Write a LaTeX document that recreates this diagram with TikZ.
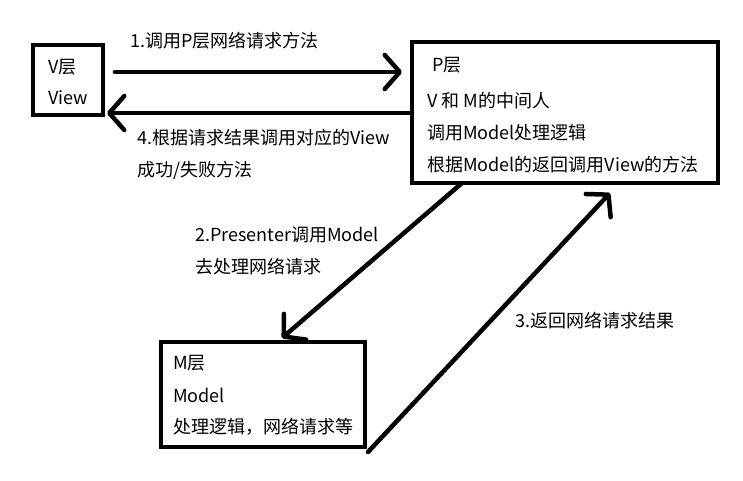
\documentclass[tikz,border=0pt]{standalone}
\usepackage{fontspec}
\setmainfont{Noto Sans CJK SC}
\usetikzlibrary{arrows.meta,calc}
\tikzset{
  box/.style={draw=black, line width=4.5pt, fill=none, inner sep=0pt},
  lbl/.style={anchor=west, inner sep=0pt, font=\fontsize{18}{21}\selectfont},
  conn/.style={line width=4.5pt, line cap=round, -{Straight Barb[length=15pt,width=34pt,round]}}
}
\begin{document}
\begin{tikzpicture}[x=1pt,y=-1pt]
\useasboundingbox (0,0) rectangle (743,481);
% boxes
\node[box, minimum width=70pt, minimum height=70pt] (V) at (68,80) {};
\node[box, minimum width=306pt, minimum height=141pt] (P) at (565,112.5) {};
\node[box, minimum width=204pt, minimum height=105pt] (M) at (263,394.5) {};
% box texts
\node[lbl] (v1) at (48,67) {V层};
\node[lbl] (v2) at (48,98) {View};
\node[lbl] (p1) at (432,65) {P层};
\node[lbl] (p2) at (427,101) {V 和 M的中间人};
\node[lbl] (p3) at (427,133) {调用Model处理逻辑};
\node[lbl] (p4) at (427,165) {根据Model的返回调用View的方法};
\node[lbl] (m1) at (173,363) {M层};
\node[lbl] (m2) at (173,395) {Model};
\node[lbl] (m3) at (173,427) {处理逻辑，网络请求等};
% connector labels
\node[lbl] (t1) at (130,41) {1.调用P层网络请求方法};
\node[lbl] (t4a) at (137,138) {4.根据请求结果调用对应的View};
\node[lbl] (t4b) at (137,170) {成功/失败方法};
\node[lbl] (t2a) at (195,235) {2.Presenter调用Model};
\node[lbl] (t2b) at (195,267) {去处理网络请求};
\node[lbl] (t3) at (515,321) {3.返回网络请求结果};
% connector ends
\coordinate (a1s) at (115,72);
\coordinate (a1e) at (402,72);
\coordinate (a4s) at (412,113);
\coordinate (a4e) at (107,113);
\coordinate (a2s) at (462,183);
\coordinate (a2e) at (282,338);
\coordinate (a3s) at (368,452);
\coordinate (a3e) at (610,193);
% connectors
\draw[conn] (a1s) -- (a1e);
\draw[conn] (a4s) -- (a4e);
\draw[conn] (a2s) -- (a2e);
\draw[conn] (a3s) -- (a3e);
\end{tikzpicture}
\end{document}
